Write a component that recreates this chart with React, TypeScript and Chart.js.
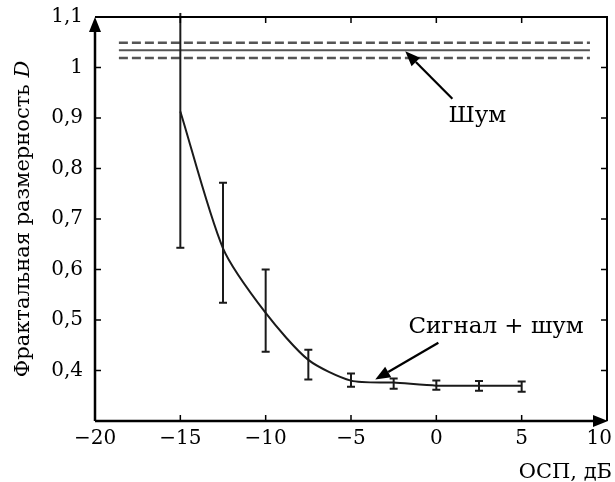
import React, { useEffect, useRef } from 'react';
import { Chart, registerables } from 'chart.js';

Chart.register(...registerables);

// ---------- data ----------
const SNR = [-15, -12.5, -10, -7.5, -5, -2.5, 0, 2.5, 5];
const D_MEAN = [0.913, 0.642, 0.514, 0.421, 0.38, 0.376, 0.37, 0.37, 0.37];
const D_HIGH = [1.108, 0.772, 0.6, 0.441, 0.394, 0.384, 0.38, 0.379, 0.378];
const D_LOW = [0.643, 0.534, 0.437, 0.382, 0.368, 0.364, 0.362, 0.36, 0.358];

const NOISE_X = [-18.6, 9.0];
const NOISE_UPPER = [1.049, 1.049];
const NOISE_MEAN = [1.034, 1.034];
const NOISE_LOWER = [1.019, 1.019];

const X_TICKS = [-20, -15, -10, -5, 0, 5, 10];
const X_TICK_LABELS = ['−20', '−15', '−10', '−5', '0', '5', '10'];
const Y_TICKS = [0.4, 0.5, 0.6, 0.7, 0.8, 0.9, 1.0, 1.1];
const Y_TICK_LABELS = ['0,4', '0,5', '0,6', '0,7', '0,8', '0,9', '1', '1,1'];

const X_TITLE = 'ОСП, дБ';
const Y_TITLE = 'Фрактальная размерность';
const Y_TITLE_VAR = 'D';

const NOTE_NOISE = 'Шум';
const NOTE_NOISE_AT = [2.4, 0.903];
const NOTE_NOISE_ARROW = [0.94, 0.938, -1.82, 1.032];
const NOTE_SIGNAL = 'Сигнал + шум';
const NOTE_SIGNAL_AT = [3.5, 0.487];
const NOTE_SIGNAL_ARROW = [0.12, 0.455, -3.58, 0.382];

const FONT = 'DejaVu Serif';

function arrow(ctx: CanvasRenderingContext2D, x1: number, y1: number, x2: number, y2: number, len: number, half: number, lw: number) {
  const ang = Math.atan2(y2 - y1, x2 - x1);
  const bx = x2 - Math.cos(ang) * len;
  const by = y2 - Math.sin(ang) * len;
  ctx.beginPath();
  ctx.lineWidth = lw;
  ctx.moveTo(x1, y1);
  ctx.lineTo(bx, by);
  ctx.stroke();
  ctx.beginPath();
  ctx.moveTo(x2, y2);
  ctx.lineTo(bx + Math.sin(ang) * half, by - Math.cos(ang) * half);
  ctx.lineTo(bx - Math.sin(ang) * half, by + Math.cos(ang) * half);
  ctx.closePath();
  ctx.fill();
}

const decorPlugin = {
  id: 'decor',
  afterDatasetsDraw(chart: any) {
    const ctx: CanvasRenderingContext2D = chart.ctx;
    const xs = chart.scales.x;
    const ys = chart.scales.y;
    const { left, right, top, bottom } = chart.chartArea;
    ctx.save();
    ctx.strokeStyle = '#1a1a1a';
    ctx.fillStyle = '#1a1a1a';

    // error bars
    ctx.lineWidth = 2;
    SNR.forEach((x, i) => {
      const px = xs.getPixelForValue(x);
      const ph = ys.getPixelForValue(D_HIGH[i]);
      const pl = ys.getPixelForValue(D_LOW[i]);
      ctx.beginPath();
      ctx.moveTo(px, pl);
      ctx.lineTo(px, ph);
      ctx.stroke();
      ctx.beginPath();
      ctx.moveTo(px - 4, pl);
      ctx.lineTo(px + 4, pl);
      if (D_HIGH[i] <= ys.max) {
        ctx.moveTo(px - 4, ph);
        ctx.lineTo(px + 4, ph);
      }
      ctx.stroke();
    });

    // frame
    ctx.strokeStyle = '#000';
    ctx.fillStyle = '#000';
    ctx.lineWidth = 2;
    ctx.beginPath();
    ctx.moveTo(left, top);
    ctx.lineTo(right, top);
    ctx.lineTo(right, bottom);
    ctx.stroke();
    ctx.lineWidth = 2.5;
    ctx.beginPath();
    ctx.moveTo(left, bottom);
    ctx.lineTo(left, top + 10);
    ctx.moveTo(left, bottom);
    ctx.lineTo(right - 10, bottom);
    ctx.stroke();
    // arrowheads
    ctx.beginPath();
    ctx.moveTo(left, top);
    ctx.lineTo(left - 6, top + 15);
    ctx.lineTo(left + 6, top + 15);
    ctx.closePath();
    ctx.fill();
    ctx.beginPath();
    ctx.moveTo(right + 1, bottom);
    ctx.lineTo(right - 14, bottom - 6);
    ctx.lineTo(right - 14, bottom + 6);
    ctx.closePath();
    ctx.fill();

    // inner ticks
    ctx.lineWidth = 1.5;
    ctx.beginPath();
    X_TICKS.forEach((v) => {
      if (v <= xs.min || v >= xs.max) return;
      const px = xs.getPixelForValue(v);
      ctx.moveTo(px, bottom);
      ctx.lineTo(px, bottom - 6);
      ctx.moveTo(px, top);
      ctx.lineTo(px, top + 6);
    });
    Y_TICKS.forEach((v) => {
      if (v <= ys.min || v >= ys.max) return;
      const py = ys.getPixelForValue(v);
      ctx.moveTo(left, py);
      ctx.lineTo(left + 6, py);
      ctx.moveTo(right, py);
      ctx.lineTo(right - 6, py);
    });
    ctx.stroke();

    // x tick labels
    ctx.font = `20px "${FONT}"`;
    ctx.textAlign = 'center';
    ctx.textBaseline = 'middle';
    X_TICKS.forEach((v, i) => {
      let px = xs.getPixelForValue(v);
      const w = ctx.measureText(X_TICK_LABELS[i]).width;
      if (px + w / 2 > chart.width - 3) px = chart.width - 3 - w / 2;
      ctx.fillText(X_TICK_LABELS[i], px, bottom + 18);
    });

    // axis titles
    ctx.font = `21px "${FONT}"`;
    ctx.textAlign = 'right';
    ctx.fillText(X_TITLE, chart.width - 3, bottom + 52);

    ctx.save();
    ctx.translate(24, (top + bottom) / 2);
    ctx.rotate(-Math.PI / 2);
    ctx.font = `21px "${FONT}"`;
    const w1 = ctx.measureText(Y_TITLE + ' ').width;
    ctx.font = `italic 21px "${FONT}"`;
    const w2 = ctx.measureText(Y_TITLE_VAR).width;
    const start = -(w1 + w2) / 2;
    ctx.textAlign = 'left';
    ctx.font = `21px "${FONT}"`;
    ctx.fillText(Y_TITLE + ' ', start, 0);
    ctx.font = `italic 21px "${FONT}"`;
    ctx.fillText(Y_TITLE_VAR, start + w1, 0);
    ctx.restore();

    // annotations
    ctx.font = `23px "${FONT}"`;
    ctx.textAlign = 'center';
    ctx.fillText(NOTE_NOISE, xs.getPixelForValue(NOTE_NOISE_AT[0]), ys.getPixelForValue(NOTE_NOISE_AT[1]));
    ctx.fillText(NOTE_SIGNAL, xs.getPixelForValue(NOTE_SIGNAL_AT[0]), ys.getPixelForValue(NOTE_SIGNAL_AT[1]));
    [NOTE_NOISE_ARROW, NOTE_SIGNAL_ARROW].forEach((a) => {
      arrow(
        ctx,
        xs.getPixelForValue(a[0]),
        ys.getPixelForValue(a[1]),
        xs.getPixelForValue(a[2]),
        ys.getPixelForValue(a[3]),
        15,
        6,
        2.2
      );
    });
    ctx.restore();
  },
};

export default function App() {
  const ref = useRef<HTMLCanvasElement | null>(null);
  useEffect(() => {
    if (!ref.current) return;
    const noise = (ys: number[]) => NOISE_X.map((x, i) => ({ x, y: ys[i] }));
    const chart = new Chart(ref.current, {
      type: 'line',
      data: {
        datasets: [
          {
            data: SNR.map((x, i) => ({ x, y: D_MEAN[i] })),
            borderColor: '#1a1a1a',
            borderWidth: 2,
            pointRadius: 0,
            tension: 0.25,
            fill: false,
          },
          {
            data: noise(NOISE_UPPER),
            borderColor: '#555',
            borderWidth: 2.5,
            borderDash: [9, 4],
            pointRadius: 0,
            fill: false,
          },
          {
            data: noise(NOISE_MEAN),
            borderColor: '#555',
            borderWidth: 2,
            pointRadius: 0,
            fill: false,
          },
          {
            data: noise(NOISE_LOWER),
            borderColor: '#555',
            borderWidth: 2.5,
            borderDash: [9, 4],
            pointRadius: 0,
            fill: false,
          },
        ],
      },
      options: {
        animation: false,
        responsive: false,
        maintainAspectRatio: false,
        layout: { padding: { left: 0, right: 8, top: 17, bottom: 0 } },
        plugins: { legend: { display: false }, tooltip: { enabled: false } },
        scales: {
          x: {
            type: 'linear',
            min: -20,
            max: 10,
            grid: { display: false, drawTicks: false },
            border: { display: false },
            ticks: { display: false },
            afterBuildTicks: (s: any) => {
              s.ticks = X_TICKS.map((v) => ({ value: v }));
            },
            afterFit: (s: any) => {
              s.height = 61;
              s.paddingLeft = 0;
              s.paddingRight = 0;
            },
          },
          y: {
            type: 'linear',
            min: 0.3,
            max: 1.1,
            grid: { display: false, drawTicks: false },
            border: { display: false },
            afterBuildTicks: (s: any) => {
              s.ticks = Y_TICKS.map((v) => ({ value: v }));
            },
            ticks: {
              padding: 12,
              color: '#000',
              font: { family: FONT, size: 20 },
              callback: (v: any) => {
                const i = Y_TICKS.findIndex((t) => Math.abs(t - Number(v)) < 1e-6);
                return i >= 0 ? Y_TICK_LABELS[i] : '';
              },
            },
            afterFit: (s: any) => {
              s.width = 95;
              s.paddingTop = 0;
              s.paddingBottom = 0;
            },
          },
        },
      } as any,
      plugins: [decorPlugin],
    });
    return () => chart.destroy();
  }, []);

  return (
    <div style={{ position: 'fixed', left: 0, top: 0, width: 615, height: 482, background: '#fff' }}>
      <canvas ref={ref} width={615} height={482} style={{ width: 615, height: 482, display: 'block' }} />
    </div>
  );
}
